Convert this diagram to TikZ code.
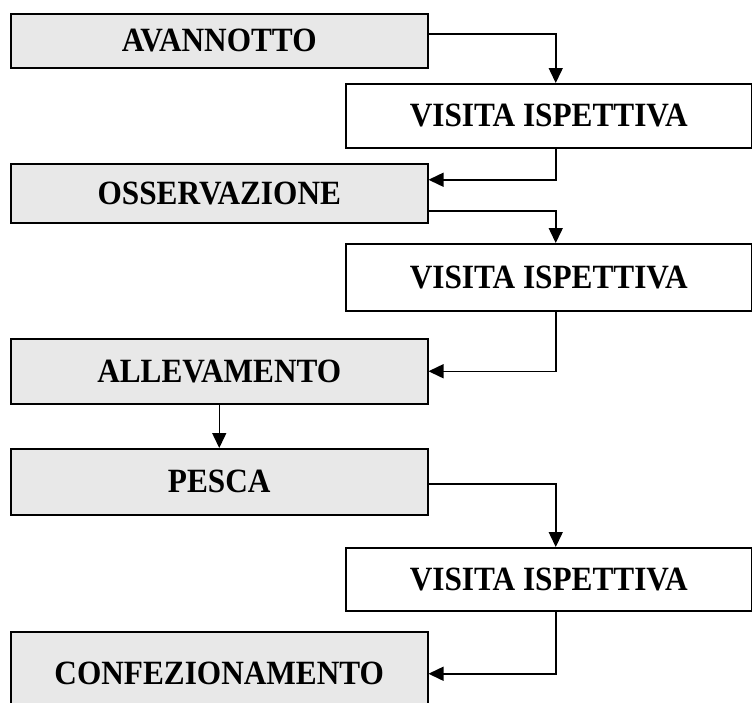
\documentclass[tikz,border=0pt]{standalone}
\usepackage{fontspec}
\setmainfont{Liberation Serif}[FakeStretch=0.92]
\usetikzlibrary{arrows.meta}
\definecolor{boxgray}{RGB}{232,232,232}
\tikzset{
  fase/.style={draw, fill=boxgray, line width=1.5pt, anchor=north west, inner sep=0pt,
    minimum width=417pt, font=\fontsize{34}{38}\selectfont\bfseries},
  visita/.style={fase, fill=white, minimum width=406pt},
  flow/.style={line width=1.5pt, -{Triangle[length=15pt,width=14pt]}}
}
\begin{document}
\begin{tikzpicture}[x=1pt, y=-1pt]
    \useasboundingbox (0,0) rectangle (752,702);

    \node[fase, minimum height=54pt] (ava) at (10,13) {AVANNOTTO};
    \node[visita, minimum height=64pt] (vis1) at (345,83) {VISITA ISPETTIVA};
    \node[fase, minimum height=59pt] (oss) at (10,163) {OSSERVAZIONE};
    \node[visita, minimum height=67pt] (vis2) at (345,243) {VISITA ISPETTIVA};
    \node[fase, minimum height=65pt] (all) at (10,338) {ALLEVAMENTO};
    \node[fase, minimum height=66pt] (pes) at (10,448) {PESCA};
    \node[visita, minimum height=63pt] (vis3) at (345,547) {VISITA ISPETTIVA};
    \node[fase, minimum height=84pt] (con) at (10,631) {CONFEZIONAMENTO};

    \draw[flow] ([yshift=7pt]ava.east) -| ([xshift=7pt]vis1.north);
    \draw[flow] ([xshift=7pt]vis1.south) |- ([yshift=13.5pt]oss.east);
    \draw[flow] ([yshift=-17.5pt]oss.east) -| ([xshift=7pt]vis2.north);
    \draw[flow] ([xshift=7pt]vis2.south) |- (all.east);
    \draw[flow] (all) -- (pes);
    \draw[flow] ([yshift=-2pt]pes.east) -| ([xshift=7pt]vis3.north);
    \draw[flow] ([xshift=7pt]vis3.south) |- (con.east);
\end{tikzpicture}
\end{document}
